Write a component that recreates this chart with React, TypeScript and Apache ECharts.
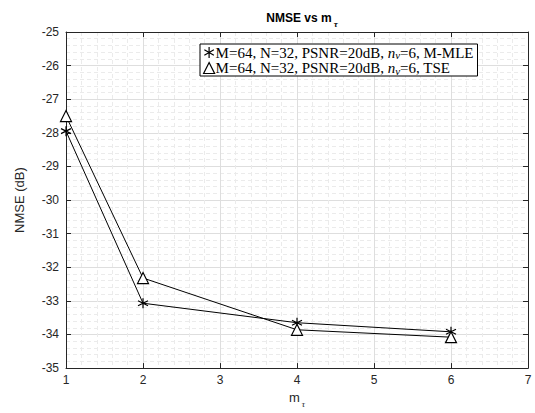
import React, { useEffect, useRef } from "react";
import * as echarts from "echarts";

const xValues = [1, 2, 4, 6];
const mmleValues = [-27.95, -33.07, -33.65, -33.92];
const tseValues = [-27.5, -32.32, -33.86, -34.08];
const seriesNames = [
  "M=64, N=32, PSNR=20dB, n=6, M-MLE",
  "M=64, N=32, PSNR=20dB, n=6, TSE",
];
const legendSuffix = ["M-MLE", "TSE"];

const STAR = "path://M0,-5L0,5M-4.33,-2.5L4.33,2.5M-4.33,2.5L4.33,-2.5";
const AXIS_COLOR = "#262626";
const SANS = "'Liberation Sans', Arial, Helvetica, sans-serif";
const SERIF = "'Liberation Serif', 'DejaVu Serif', serif";

export default function App() {
  const ref = useRef<HTMLDivElement>(null);
  useEffect(() => {
    if (!ref.current) return;
    const chart = echarts.init(ref.current, undefined, { renderer: "svg" });
    const axisCommon = {
      type: "value" as const,
      interval: 1,
      axisLine: { show: true, lineStyle: { color: AXIS_COLOR, width: 1 } },
      axisTick: { show: true, inside: true, length: 5, lineStyle: { color: AXIS_COLOR } },
    };
    const minorLine = { show: true, lineStyle: { color: "#ebebeb", width: 1, type: [4, 3] } };
    chart.setOption({
      animation: false,
      backgroundColor: "#fff",
      title: {
        text: "{b|NMSE vs m}{s|τ}",
        left: 297,
        textAlign: "center",
        top: 2,
        textStyle: {
          rich: {
            b: { fontFamily: SANS, fontWeight: "bold", fontSize: 12, color: "#000", lineHeight: 16 },
            s: { fontFamily: SERIF, fontStyle: "italic", fontSize: 9, color: "#000", padding: [12, 0, 0, 2] },
          },
        },
      },
      grid: { left: 66, right: 7, top: 32, bottom: 43 },
      legend: {
        orient: "vertical",
        left: 200,
        top: 44,
        padding: [1, 4, 0, 3],
        itemGap: 0,
        itemWidth: 11,
        itemHeight: 11,
        backgroundColor: "#fff",
        borderColor: "#000",
        borderWidth: 1,
        borderRadius: 0,
        data: [
          { name: seriesNames[0], icon: STAR, itemStyle: { color: "#000", borderColor: "#000", borderWidth: 1.2 } },
          { name: seriesNames[1], icon: "triangle", itemStyle: { color: "#fff", borderColor: "#000", borderWidth: 1.2 } },
        ],
        formatter: (name: string) => {
          const idx = seriesNames.indexOf(name);
          return `{a|M=64, N=32, PSNR=20dB, }{i|n}{s|ν}{a|=6, ${legendSuffix[idx]}}`;
        },
        textStyle: {
          padding: [0, 0, 0, -4],
          rich: {
            a: { fontFamily: SERIF, fontSize: 15, color: "#000", lineHeight: 16 },
            i: { fontFamily: SERIF, fontStyle: "italic", fontSize: 15, color: "#000", lineHeight: 16 },
            s: { fontFamily: SERIF, fontStyle: "italic", fontSize: 11, color: "#000", padding: [5, 0, 0, 0] },
          },
        },
      },
      xAxis: [
        {
          ...axisCommon,
          min: 1,
          max: 7,
          position: "bottom",
          name: "{m|m}{s|τ}",
          nameLocation: "middle",
          nameGap: 14,
          nameTextStyle: {
            rich: {
              m: { fontFamily: SANS, fontSize: 13, color: "#262626", lineHeight: 16 },
              s: { fontFamily: SERIF, fontStyle: "italic", fontSize: 9, color: "#262626", padding: [12, 0, 0, 2] },
            },
          },
          axisLabel: { color: "#262626", fontFamily: SANS, fontSize: 12, margin: 6 },
          splitLine: { show: true, lineStyle: { color: "#dedede", width: 1 } },
          minorTick: { show: false, splitNumber: 5 },
          minorSplitLine: minorLine,
        },
        {
          ...axisCommon,
          min: 1,
          max: 7,
          position: "top",
          axisLabel: { show: false },
          splitLine: { show: false },
        },
      ],
      yAxis: [
        {
          ...axisCommon,
          min: -35,
          max: -25,
          position: "left",
          name: "NMSE (dB)",
          nameLocation: "middle",
          nameGap: 40,
          nameTextStyle: { fontFamily: SANS, fontSize: 13, color: "#262626" },
          axisLabel: { color: "#262626", fontFamily: SANS, fontSize: 12, margin: 7 },
          splitLine: { show: true, lineStyle: { color: "#dedede", width: 1 } },
          minorTick: { show: false, splitNumber: 5 },
          minorSplitLine: minorLine,
        },
        {
          ...axisCommon,
          min: -35,
          max: -25,
          position: "right",
          axisLabel: { show: false },
          splitLine: { show: false },
        },
      ],
      series: [
        {
          name: seriesNames[0],
          type: "line",
          data: xValues.map((x, i) => [x, mmleValues[i]]),
          symbol: STAR,
          symbolSize: 10,
          lineStyle: { color: "#000", width: 1 },
          itemStyle: { color: "#000", borderColor: "#000", borderWidth: 1.2 },
          z: 3,
        },
        {
          name: seriesNames[1],
          type: "line",
          data: xValues.map((x, i) => [x, tseValues[i]]),
          symbol: "triangle",
          symbolSize: 11,
          lineStyle: { color: "#000", width: 1 },
          itemStyle: { color: "#fff", borderColor: "#000", borderWidth: 1.2 },
          z: 4,
        },
      ],
    });
    return () => chart.dispose();
  }, []);
  return <div ref={ref} style={{ width: 535, height: 413, position: "absolute", left: 0, top: 0 }} />;
}
